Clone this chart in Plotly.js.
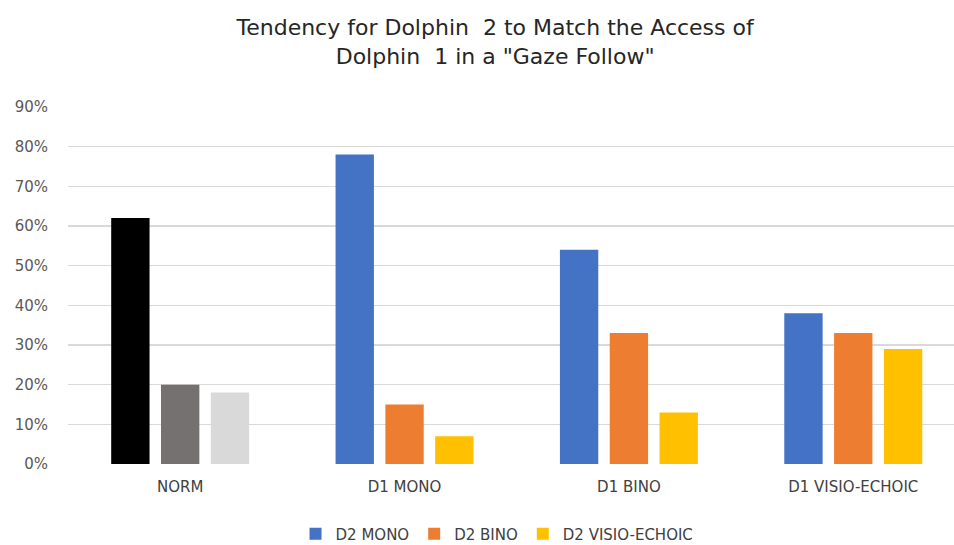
<!DOCTYPE html>
<html><head><meta charset="utf-8">
<script src="https://cdn.plot.ly/plotly-3.0.1.min.js"></script>
<style>html,body{margin:0;padding:0;background:#fff}#chart{width:954px;height:545px}</style>
</head><body><div id="chart"></div>
<script>
const categories = ["NORM", "D1 MONO", "D1 BINO", "D1 VISIO-ECHOIC"];
const seriesNames = ["D2 MONO", "D2 BINO", "D2 VISIO-ECHOIC"];
const d2Mono = [0.62, 0.78, 0.54, 0.38];
const d2Bino = [0.20, 0.15, 0.33, 0.33];
const d2Visio = [0.18, 0.07, 0.13, 0.29];
const seriesColors = ["#4472C4", "#ED7D31", "#FFC000"];
const normColors = ["#000000", "#767171", "#D9D9D9"];
const yTicks = [0, 0.1, 0.2, 0.3, 0.4, 0.5, 0.6, 0.7, 0.8, 0.9];

const allValues = [d2Mono, d2Bino, d2Visio];
const traces = allValues.map((vals, i) => ({
  type: "bar",
  name: seriesNames[i],
  x: categories,
  y: vals,
  marker: { color: categories.map((c, j) => j === 0 ? normColors[i] : seriesColors[i]) },
  hoverinfo: "x+y+name"
}));

const layout = {
  width: 954, height: 545,
  margin: { l: 67.5, r: 0, t: 107, b: 81 },
  paper_bgcolor: "#ffffff", plot_bgcolor: "#ffffff",
  font: { family: "DejaVu Sans, sans-serif", color: "#404040" },
  title: {
    text: "Tendency for Dolphin  2 to Match the Access of<br>Dolphin  1 in a \"Gaze Follow\"",
    font: { size: 22, color: "#262626", family: "DejaVu Sans, sans-serif" },
    x: 0.519, xref: "container", xanchor: "center",
    y: 0.935, yref: "container", yanchor: "top"
  },
  barmode: "group",
  bargap: 0.334,
  bargroupgap: 0.23,
  xaxis: {
    type: "category",
    range: [-0.5, 3.449],
    showgrid: false, zeroline: false, showline: false,
    ticks: "", tickfont: { size: 15, color: "#404040" },
    ticklabelstandoff: 12,
    automargin: false
  },
  yaxis: {
    range: [0, 0.9],
    tickvals: yTicks,
    tickformat: ".0%",
    showgrid: true, gridcolor: "#D9D9D9", gridwidth: 1.5,
    zeroline: false, showline: false, ticks: "",
    tickfont: { size: 15, color: "#595959" },
    ticklabelstandoff: 19,
    automargin: false
  },
  legend: {
    orientation: "h",
    x: 0.521, xref: "container", xanchor: "center",
    y: 0.02, yref: "container", yanchor: "middle",
    font: { size: 15, color: "#404040" },
    traceorder: "normal"
  },
  showlegend: true
};

Plotly.newPlot("chart", traces, layout, { displayModeBar: false, staticPlot: true }).then(() => {
  const pts = document.querySelectorAll(".legend .traces .legendpoints path");
  pts.forEach((p, i) => { if (seriesColors[i]) p.style.fill = seriesColors[i]; });
});
</script>
</body></html>
